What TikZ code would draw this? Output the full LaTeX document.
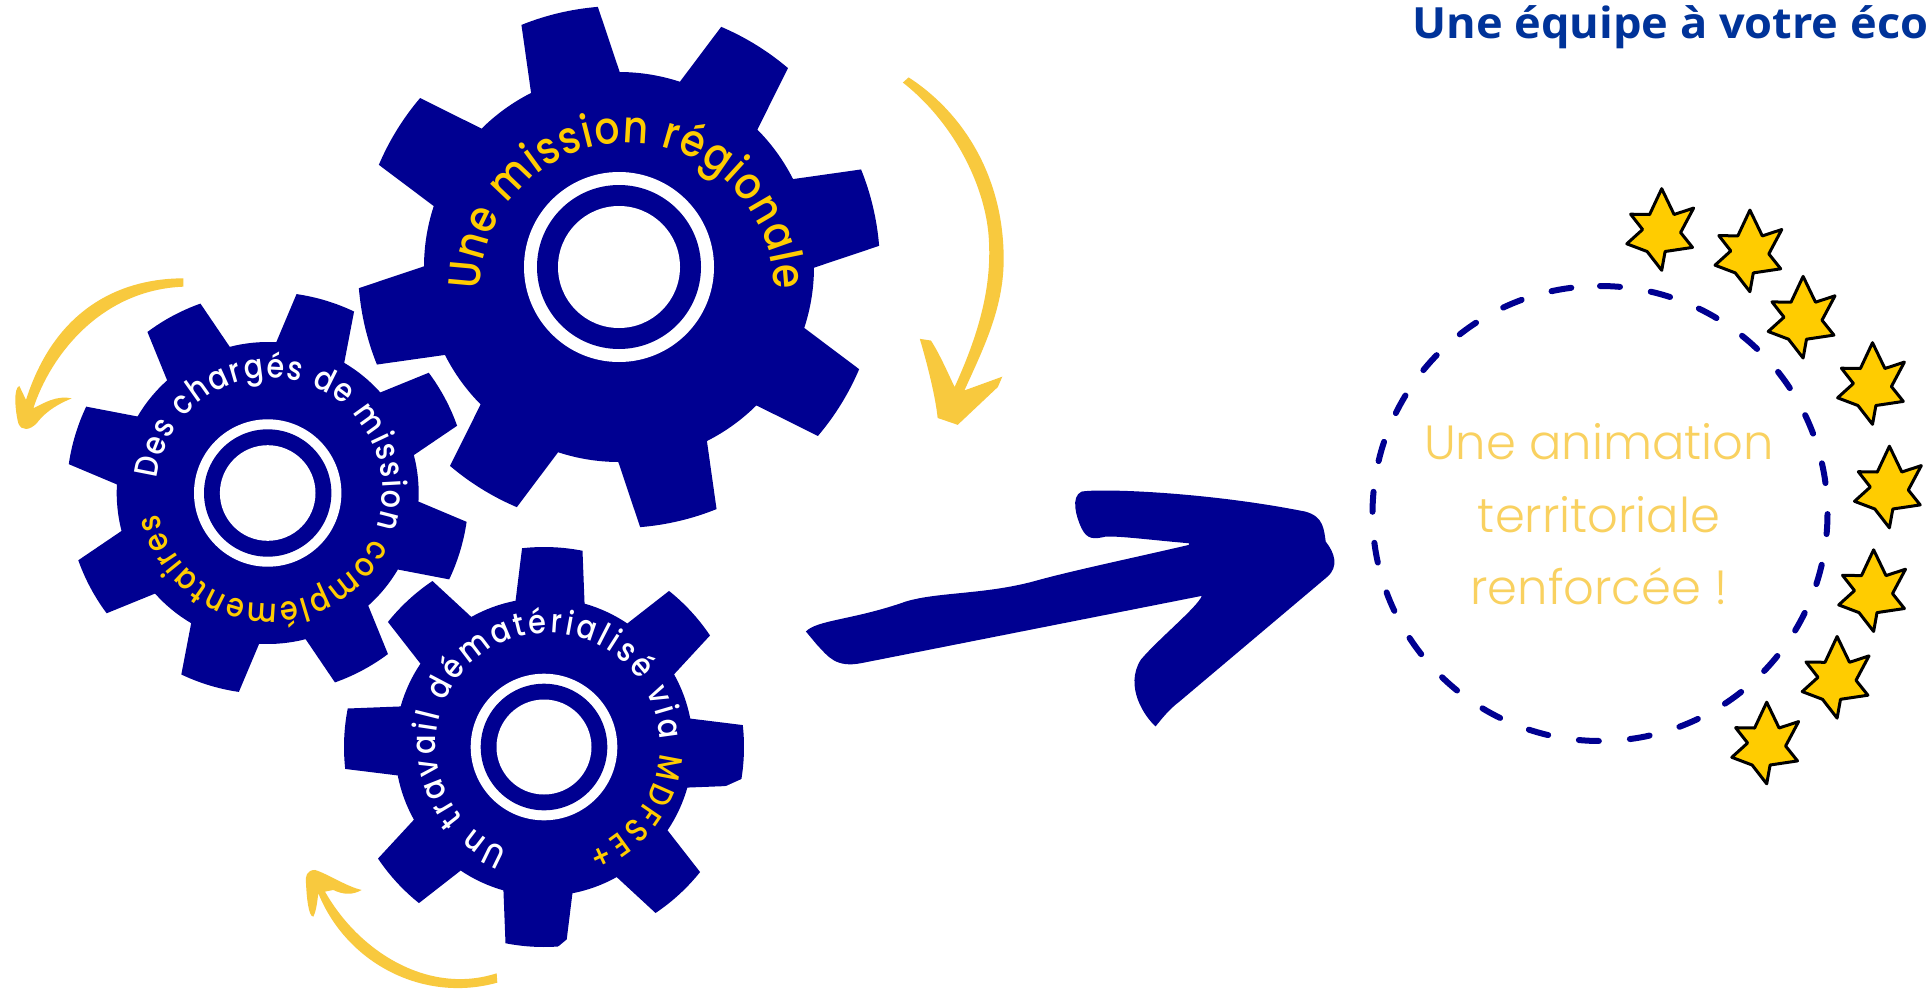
\documentclass[tikz,border=0pt]{standalone}
\usepackage{fontspec}
\usetikzlibrary{decorations.text}
\setmainfont{Poppins}
\newfontfamily\titlefont{Open Sans}[FakeStretch=1.05]
\newfontfamily\lightfont{Poppins Light}
\newfontfamily\handfont{Poppins Medium}[FakeStretch=0.87]
\definecolor{gearblue}{HTML}{000091}
\definecolor{titleblue}{HTML}{003399}
\definecolor{textyel}{HTML}{FFCC00}
\definecolor{arrowyel}{HTML}{F8C93E}
\definecolor{softyel}{HTML}{F9D160}
\tikzset{
  gearbody/.style={fill=gearblue},
  yelarrow/.style={fill=arrowyel},
  bluearrow/.style={fill=gearblue},
  starbody/.style={fill=textyel,draw=black,line width=3pt,line join=round},
  ringdash/.style={draw=gearblue,line width=6pt,line cap=round,dash pattern=on 20pt off 31.14pt},
  softlabel/.style={text=softyel,font=\lightfont\fontsize{48}{58}\selectfont,anchor=base}
}
\newcommand{\gearfill}[7]{%
  \path[gearbody,shift={(#1,-#2)}] ({90-#5+#6}:#3)
    foreach \k [evaluate=\k as \A using 90-#5-45*\k] in {0,...,7}{
      -- ({\A+#6}:#3) arc[start angle={\A+#6},end angle={\A-#6},radius=#3]
      -- ({\A-#7}:#4) arc[start angle={\A-#7},end angle={\A-45+#7},radius=#4]
    } -- cycle;}
\newcommand{\gearhub}[5]{%
  \fill[white] (#1,-#2) circle[radius=#3];
  \fill[gearblue] (#1,-#2) circle[radius=#4];
  \fill[white] (#1,-#2) circle[radius=#5];}
\newcommand{\starfull}[2]{%
  \path[starbody,shift={(#1,-#2)}]
   (1.1,40.8) -- (13.5,15) -- (33,21.4) -- (20,-3) -- (31.9,-17.9) -- (4.5,-22)
   -- (1.1,-40.8) -- (-13.5,-22) -- (-33.8,-14.3) -- (-18,0) -- (-30,15.3) -- (-11,15) -- cycle;}
\begin{document}
\begin{tikzpicture}[x=1pt,y=1pt]
\useasboundingbox (0,-991) rectangle (1928,0);
\fill[white] (0,-991) rectangle (1928,0);

% gears
\gearfill{619}{267}{261}{195}{-13.3}{8.65}{13.5}
\gearhub{619}{267}{95}{82}{61}
\gearfill{267.7}{493}{201}{151}{-28.15}{8.6}{13.6}
\gearhub{267.7}{493}{73.7}{63.7}{47.8}
\gearfill{544}{747}{200}{149}{2.4}{8.7}{13.4}
\gearhub{544}{747}{73.3}{63.3}{47.5}
\fill[white] (723.3,-787.3) -- (743.3,-778.3) -- (746,-790) -- cycle;
\fill[white] (555,-949.3) -- (568.3,-938.3) -- (572,-952) -- cycle;

% gear texts
\path[decorate,decoration={text along path,text align={fit to path},
  text={|\handfont\fontsize{45}{54}\selectfont\color{textyel}|Une mission régionale}}]
  (480,-290) arc[start angle=180,end angle=0,radius=147];
\path[decorate,decoration={text along path,text align={fit to path},
  text={|\handfont\fontsize{33}{40}\selectfont\color{white}|Des chargés de mission |\handfont\fontsize{33}{40}\selectfont\color{textyel}|complémentaires}}]
  (269.5,-490.7) ++(174:113) arc[start angle=174,end angle=-168,radius=113];
\path[decorate,decoration={text along path,text align={fit to path},
  text={|\handfont\fontsize{33}{40}\selectfont\color{white}|Un travail dématérialisé via |\handfont\fontsize{33}{40}\selectfont\color{textyel}|MDFSE+}}]
  (548,-745) ++(249:112) arc[start angle=249,end angle=-70,radius=112];

% yellow arrows
\begin{scope}[shift={(340,0)},xscale=.446,yscale=-.344]
\fill[yelarrow] (1275,225) .. controls (1400,330) and (1490,520) .. (1488,760)
  .. controls (1487,900) and (1440,1020) .. (1400,1135) -- (1485,1095) -- (1475,1125)
  -- (1385,1235) -- (1340,1215) .. controls (1335,1150) and (1315,1050) .. (1300,985)
  -- (1325,990) .. controls (1345,1030) and (1365,1090) .. (1378,1125)
  .. controls (1440,950) and (1460,820) .. (1455,700)
  .. controls (1450,550) and (1380,360) .. (1262,240) -- cycle;
\end{scope}
\begin{scope}[shift={(0,-260)},xscale=.3333,yscale=-.3333]
\fill[yelarrow] (550,55) .. controls (380,55) and (170,130) .. (78,420) -- (58,378)
  .. controls (40,385) and (45,450) .. (55,490) .. controls (65,515) and (90,510) .. (110,490)
  .. controls (140,450) and (180,430) .. (215,415) .. controls (170,405) and (130,430) .. (100,445)
  .. controls (150,290) and (300,90) .. (550,80) -- cycle;
\end{scope}
\begin{scope}[shift={(290,-530)},xscale=.3333,yscale=-.3333]
\fill[yelarrow] (620,1330) .. controls (420,1395) and (210,1270) .. (105,1085)
  -- (130,1080) .. controls (160,1095) and (190,1095) .. (215,1080)
  .. controls (170,1070) and (110,1030) .. (75,1020) .. controls (50,1020) and (45,1040) .. (48,1060)
  .. controls (50,1100) and (55,1160) .. (70,1160) .. controls (80,1140) and (82,1110) .. (85,1090)
  .. controls (170,1300) and (400,1420) .. (622,1358) -- cycle;
\end{scope}

% big arrow
\begin{scope}[shift={(780,-460)},xscale=.37,yscale=-.333]
\fill[bluearrow] (70,515) .. controls (100,480) and (200,480) .. (340,425)
  .. controls (430,395) and (560,405) .. (700,360) .. controls (800,330) and (950,295) .. (1105,255)
  -- (1105,250) .. controls (1000,240) and (920,228) .. (880,230)
  .. controls (850,238) and (830,240) .. (815,205) .. controls (800,170) and (785,110) .. (815,95)
  .. controls (860,85) and (1150,95) .. (1420,155) .. controls (1470,170) and (1470,210) .. (1475,245)
  .. controls (1500,280) and (1510,320) .. (1480,350) -- (1080,725)
  .. controls (1050,750) and (1030,780) .. (1015,800) .. controls (985,770) and (930,680) .. (975,600)
  .. controls (1020,540) and (1130,440) .. (1140,408) -- (220,610)
  .. controls (150,625) and (130,590) .. (100,555) -- cycle;
\end{scope}

% dashed circle, label
\path[ringdash] (1600,-286) arc[start angle=90,end angle=-270,radius=227.5];
\node[softlabel] (l1) at (1599,-459) {Une animation};
\node[softlabel] (l2) at (1599,-532) {territoriale};
\node[softlabel] (l3) at (1599,-604) {renforcée !};

% stars
\starfull{1660.6}{229.5}
\starfull{1748.8}{250.9}
\starfull{1802}{317.2}
\starfull{1871.4}{383.5}
\starfull{1888.3}{487}
\starfull{1872.5}{590.6}
\starfull{1836}{677.3}
\starfull{1765.6}{743}

% title
\node[anchor=base west,inner sep=0pt,text=titleblue,font=\titlefont\bfseries\fontsize{43}{50}\selectfont] (title) at (1412,-38) {Une équipe à votre éco};
\end{tikzpicture}
\end{document}
